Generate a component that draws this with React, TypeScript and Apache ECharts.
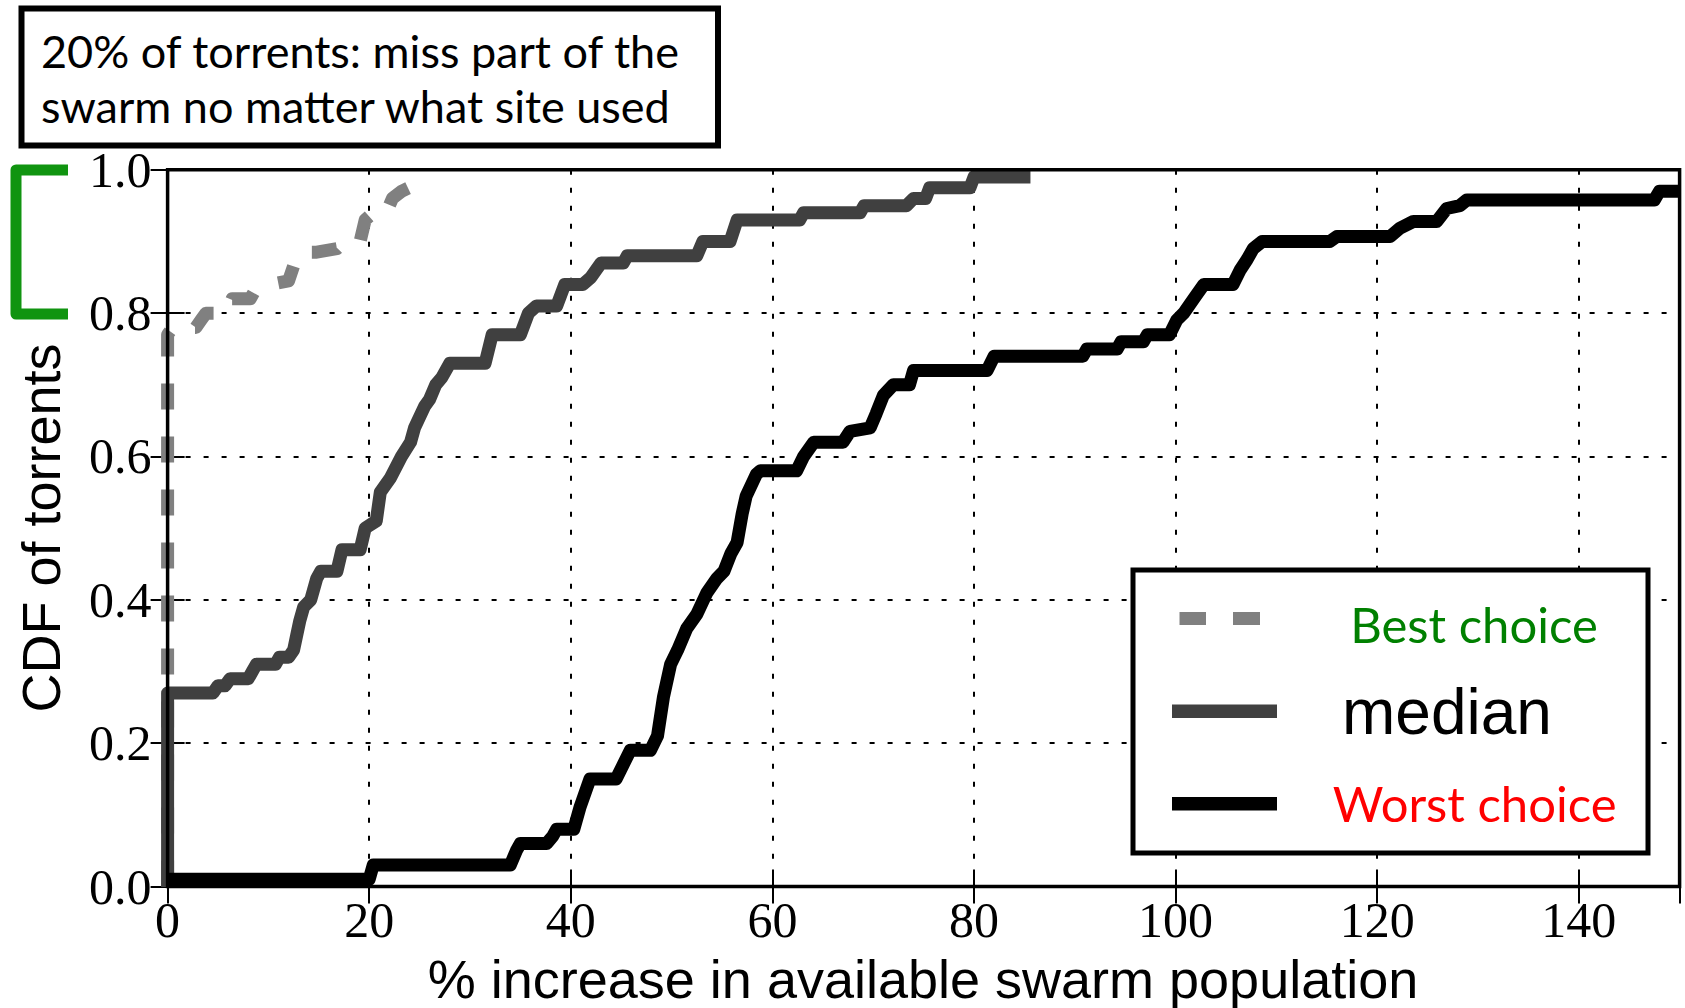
import React, { useEffect, useRef } from "react";
import * as echarts from "echarts";

// ---- data ----
const xTickLabels = ["0", "20", "40", "60", "80", "100", "120", "140"];
const yTickLabels = ["0.0", "0.2", "0.4", "0.6", "0.8", "1.0"];

const bestChoice: [number, number][] = [
  [0, 0], [0, 0.77], [0.5, 0.78], [2.8, 0.78], [3.3, 0.79], [3.8, 0.8], [5.8, 0.8],
  [6.4, 0.82], [8.2, 0.82], [8.6, 0.83], [10.2, 0.84], [12.0, 0.845], [12.6, 0.87],
  [13.2, 0.885], [14.8, 0.885], [16.8, 0.89], [17.5, 0.9], [19.1, 0.9], [19.6, 0.93],
  [20.4, 0.94], [21.7, 0.94], [22.3, 0.96], [23.2, 0.97], [24.7, 0.98],
];

const median: [number, number][] = [
  [0, 0], [0, 0.27], [4.5, 0.27], [5, 0.28], [5.7, 0.28], [6.2, 0.29], [8, 0.29],
  [8.4, 0.3], [8.8, 0.31], [10.7, 0.31], [11.1, 0.32], [12, 0.32], [12.5, 0.33],
  [12.8, 0.35], [13.1, 0.37], [13.5, 0.39], [14.2, 0.4], [14.8, 0.43], [15.2, 0.44],
  [16.8, 0.44], [17.3, 0.47], [19.1, 0.47], [19.6, 0.5], [20.7, 0.51], [21.1, 0.55],
  [22.1, 0.57], [23.2, 0.6], [24.1, 0.62], [24.5, 0.64], [25.5, 0.67], [26, 0.68],
  [26.6, 0.7], [27.2, 0.71], [28, 0.73], [31.5, 0.73], [32.2, 0.77], [35, 0.77],
  [35.8, 0.8], [36.6, 0.81], [38.6, 0.81], [39.4, 0.84], [41.2, 0.84], [42, 0.85],
  [43, 0.87], [45.2, 0.87], [45.6, 0.88], [52.5, 0.88], [53.1, 0.9], [55.8, 0.9],
  [56.5, 0.93], [62.7, 0.93], [63.1, 0.94], [68.7, 0.94], [69.1, 0.95], [73.3, 0.95],
  [74, 0.96], [75.2, 0.96], [75.6, 0.975], [79.6, 0.975], [80, 0.99], [85.6, 0.99],
];

const worstChoice: [number, number][] = [
  [0, 0.01], [20, 0.01], [20.4, 0.03], [34, 0.03], [34.6, 0.05], [35, 0.06], [37.6, 0.06],
  [38.2, 0.07], [38.6, 0.08], [40.3, 0.08], [40.9, 0.11], [41.9, 0.15], [44.5, 0.15],
  [45.2, 0.17], [45.9, 0.19], [47.9, 0.19], [48.6, 0.21], [49.2, 0.265], [49.9, 0.31],
  [50.6, 0.33], [51.5, 0.36], [52.5, 0.38], [53.5, 0.41], [54.5, 0.43], [55.2, 0.44],
  [55.9, 0.465], [56.5, 0.48], [57, 0.52], [57.4, 0.545], [58.4, 0.575], [58.8, 0.58],
  [62.4, 0.58], [63.1, 0.6], [64.1, 0.62], [67, 0.62], [67.7, 0.635], [69.7, 0.64],
  [70.3, 0.66], [71, 0.685], [72, 0.7], [73.6, 0.7], [74, 0.72], [81.3, 0.72], [82, 0.74],
  [90.8, 0.74], [91.2, 0.75], [94.2, 0.75], [94.6, 0.76], [96.8, 0.76], [97.2, 0.77],
  [99.4, 0.77], [100.1, 0.79], [100.8, 0.8], [101.8, 0.82], [102.8, 0.84], [105.7, 0.84],
  [106.4, 0.86], [107.1, 0.875], [107.7, 0.89], [108.6, 0.9], [115.3, 0.9], [116, 0.907],
  [121.3, 0.907], [122.2, 0.918], [123.6, 0.928], [125.9, 0.928], [126.9, 0.946],
  [128.2, 0.95], [128.9, 0.958], [147.5, 0.958], [148, 0.97], [150, 0.97],
];

const annotationLines = ["20% of torrents: miss part of the", "swarm no matter what site used"];
const legendLabels = ["Best choice", "median", "Worst choice"];
const xAxisTitle = "% increase in available swarm population";
const yAxisTitle = "CDF of torrents";

const HUMANIST = "Lato, 'Open Sans', sans-serif";
const SANS = "'Liberation Sans', Arial, sans-serif";
const SERIF = "'Liberation Serif', 'Times New Roman', serif";

export default function App() {
  const ref = useRef<HTMLDivElement>(null);

  useEffect(() => {
    if (!ref.current) return;
    const chart = echarts.init(ref.current, null, { renderer: "svg" });

    const tickStyle = { show: true, inside: true, length: 17, lineStyle: { color: "#000", width: 2 } };

    const option: any = {
      animation: false,
      backgroundColor: "#fff",
      grid: {
        left: 167.6,
        right: 5.4,
        top: 169.8,
        bottom: 121.5,
        show: true,
        borderColor: "#000",
        borderWidth: 3.5,
        backgroundColor: "transparent",
        z: 3,
      },
      xAxis: [
        {
          type: "value",
          min: 0,
          max: 150,
          interval: 20,
          position: "bottom",
          axisLine: { show: false },
          axisTick: tickStyle,
          axisLabel: {
            color: "#000",
            fontFamily: SERIF,
            fontSize: 50,
            margin: 8,
            showMaxLabel: false,
            formatter: (v: number) => xTickLabels[Math.round(v / 20)] ?? "",
          },
          splitLine: { show: true, lineStyle: { color: "#000", width: 2, type: [5, 13] } },
        },
        {
          type: "value",
          min: 0,
          max: 150,
          interval: 20,
          position: "top",
          axisLine: { show: false },
          axisTick: tickStyle,
          axisLabel: { show: false },
          splitLine: { show: false },
        },
      ],
      yAxis: [
        {
          type: "value",
          min: 0,
          max: 1,
          interval: 0.2,
          position: "left",
          axisLine: { show: false },
          axisTick: tickStyle,
          axisLabel: {
            color: "#000",
            fontFamily: SERIF,
            fontSize: 50,
            margin: 16,
            formatter: (v: number) => yTickLabels[Math.round(v / 0.2)] ?? "",
          },
          splitLine: { show: true, lineStyle: { color: "#000", width: 2, type: [5, 13] } },
        },
        {
          type: "value",
          min: 0,
          max: 1,
          interval: 0.2,
          position: "right",
          axisLine: { show: false },
          axisTick: tickStyle,
          axisLabel: { show: false },
          splitLine: { show: false },
        },
      ],
      series: [
        {
          name: legendLabels[0],
          type: "line",
          data: bestChoice,
          showSymbol: false,
          symbol: "none",
          z: 2,
          lineStyle: { color: "#808080", width: 13, type: [26, 27], join: "round", cap: "butt" },
        },
        {
          name: legendLabels[1],
          type: "line",
          data: median,
          showSymbol: false,
          symbol: "none",
          z: 2,
          lineStyle: { color: "#404040", width: 13, join: "round", cap: "butt" },
        },
        {
          name: legendLabels[2],
          type: "line",
          data: worstChoice,
          showSymbol: false,
          symbol: "none",
          z: 2,
          lineStyle: { color: "#000", width: 13, join: "round", cap: "butt" },
        },
      ],
      graphic: {
        elements: [
          // annotation box
          {
            type: "rect",
            z: 100,
            shape: { x: 21.5, y: 8.5, width: 696.5, height: 137 },
            style: { fill: "#fff", stroke: "#000", lineWidth: 6 },
          },
          {
            type: "text",
            z: 101,
            x: 41,
            y: 51,
            style: {
              text: annotationLines[0],
              fill: "#000",
              font: `45px ${HUMANIST}`,
              textAlign: "left",
              verticalAlign: "middle",
            },
          },
          {
            type: "text",
            z: 101,
            x: 41,
            y: 106,
            style: {
              text: annotationLines[1],
              fill: "#000",
              font: `45px ${HUMANIST}`,
              textAlign: "left",
              verticalAlign: "middle",
            },
          },
          // green bracket
          {
            type: "polyline",
            z: 100,
            shape: { points: [[68, 170], [16, 170], [16, 314], [68, 314]] },
            style: { stroke: "#109410", lineWidth: 11, fill: null, lineJoin: "round" },
          },
          // legend
          {
            type: "rect",
            z: 100,
            shape: { x: 1133, y: 570, width: 515, height: 283 },
            style: { fill: "#fff", stroke: "#000", lineWidth: 5 },
          },
          {
            type: "rect",
            z: 101,
            shape: { x: 1179.5, y: 612, width: 26.5, height: 13 },
            style: { fill: "#808080" },
          },
          {
            type: "rect",
            z: 101,
            shape: { x: 1233, y: 612, width: 27, height: 13 },
            style: { fill: "#808080" },
          },
          {
            type: "rect",
            z: 101,
            shape: { x: 1172, y: 704.5, width: 105, height: 13.5 },
            style: { fill: "#404040" },
          },
          {
            type: "rect",
            z: 101,
            shape: { x: 1172, y: 797, width: 105, height: 13.5 },
            style: { fill: "#000" },
          },
          {
            type: "text",
            z: 101,
            x: 1474,
            y: 623.7,
            style: {
              text: legendLabels[0],
              fill: "#008000",
              font: `49px ${HUMANIST}`,
              textAlign: "center",
              verticalAlign: "middle",
            },
          },
          {
            type: "text",
            z: 101,
            x: 1447,
            y: 711.8,
            style: {
              text: legendLabels[1],
              fill: "#000",
              font: `64px ${SANS}`,
              textAlign: "center",
              verticalAlign: "middle",
            },
          },
          {
            type: "text",
            z: 101,
            x: 1474.6,
            y: 802.7,
            style: {
              text: legendLabels[2],
              fill: "#ff0000",
              font: `49px ${HUMANIST}`,
              textAlign: "center",
              verticalAlign: "middle",
            },
          },
          // axis titles
          {
            type: "text",
            z: 101,
            x: 923,
            y: 978.6,
            style: {
              text: xAxisTitle,
              fill: "#000",
              font: `54px ${SANS}`,
              textAlign: "center",
              verticalAlign: "middle",
            },
          },
          {
            type: "text",
            z: 101,
            x: 41,
            y: 528,
            rotation: Math.PI / 2,
            style: {
              text: yAxisTitle,
              fill: "#000",
              font: `54px ${SANS}`,
              textAlign: "center",
              verticalAlign: "middle",
            },
          },
        ],
      },
    };

    chart.setOption(option);
    return () => chart.dispose();
  }, []);

  return (
    <div
      ref={ref}
      style={{ position: "absolute", left: 0, top: 0, width: 1685, height: 1008, background: "#fff" }}
    />
  );
}
